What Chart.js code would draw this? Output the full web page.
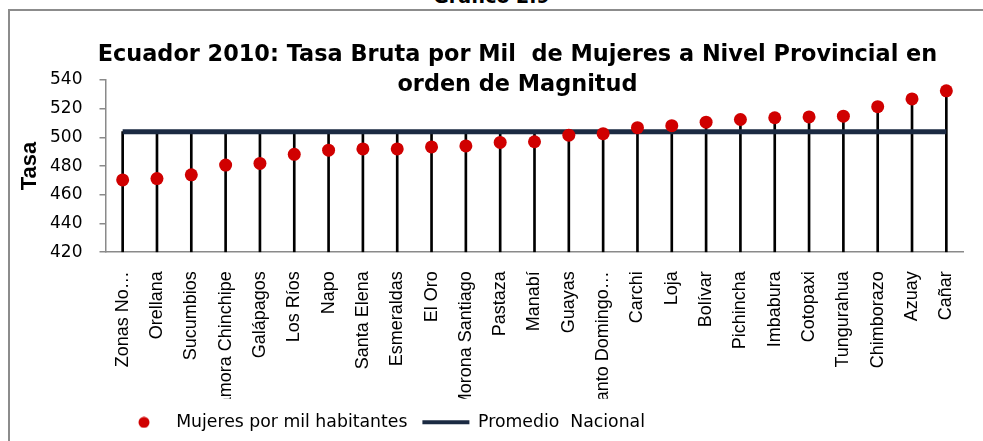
<!DOCTYPE html>
<html>
<head>
<meta charset="utf-8">
<script src="https://cdn.jsdelivr.net/npm/chart.js@4"></script>
<style>
    html, body { margin: 0; padding: 0; background: #fff; overflow: hidden; }
    body { width: 983px; height: 441px; position: relative; }
    #pageTitle {
        position: absolute; left: 0; top: -13px; width: 983px;
        text-align: center; font: bold 19px "DejaVu Sans", Arial, sans-serif;
        line-height: 18px; color: #000;
    }
    #frame {
        position: absolute; left: 8px; top: 9px; width: 973px; height: 430px;
        border-left: 2px solid #8c8c8c; border-top: 2px solid #8c8c8c;
        overflow: hidden;
    }
    #frame canvas { display: block; }
</style>
</head>
<body>
<div id="pageTitle">Gráfico 2.9</div>
<div id="frame"><canvas id="tasaChart" width="1015" height="430"></canvas></div>
<script>
const provincias = [
    'Zonas No…', 'Orellana', 'Sucumbios', 'Zamora Chinchipe', 'Galápagos',
    'Los Ríos', 'Napo', 'Santa Elena', 'Esmeraldas', 'El Oro',
    'Morona Santiago', 'Pastaza', 'Manabí', 'Guayas', 'Santo Domingo…',
    'Carchi', 'Loja', 'Bolívar', 'Pichincha', 'Imbabura',
    'Cotopaxi', 'Tungurahua', 'Chimborazo', 'Azuay', 'Cañar'
];
const mujeresPorMil = [
    470.4, 471.3, 473.9, 480.7, 481.9,
    488.2, 491.1, 492.0, 492.0, 493.4,
    494.1, 496.5, 497.0, 501.6, 502.6,
    506.8, 508.2, 510.6, 512.5, 513.7,
    514.3, 514.8, 521.4, 526.8, 532.5
];
const promedioNacional = 504.0;
const yMin = 420;
const yMax = 540;
const yStep = 20;

const promedio = provincias.map(() => promedioNacional);
// drop lines go from the axis up to whichever is higher: the point or the average line
const lineasCaida = mujeresPorMil.map(v => [yMin, Math.max(v, promedioNacional)]);

const red = '#d00000';
const navy = '#1b2a42';
const axisGray = '#8a8a8a';
const font = '"Liberation Sans", Arial, sans-serif';
const wideFont = '"DejaVu Sans", sans-serif';

// small red dot for the legend
const legendDot = document.createElement('canvas');
legendDot.width = 12;
legendDot.height = 12;
const dctx = legendDot.getContext('2d');
dctx.fillStyle = red;
dctx.beginPath();
dctx.arc(6, 6, 5.5, 0, Math.PI * 2);
dctx.fill();

const ctx = document.getElementById('tasaChart').getContext('2d');
new Chart(ctx, {
    data: {
        labels: provincias,
        datasets: [
            {
                type: 'line',
                label: 'Mujeres por mil habitantes',
                data: mujeresPorMil,
                showLine: false,
                pointRadius: 6.5,
                pointBorderWidth: 0,
                pointBackgroundColor: red,
                backgroundColor: red,
                borderColor: red,
                order: 0
            },
            {
                type: 'line',
                label: 'Promedio  Nacional',
                data: promedio,
                borderColor: navy,
                backgroundColor: navy,
                borderWidth: 5,
                pointRadius: 0,
                pointStyle: 'line',
                order: 1
            },
            {
                type: 'bar',
                label: 'caida',
                data: lineasCaida,
                backgroundColor: '#000',
                barThickness: 2,
                order: 2
            }
        ]
    },
    options: {
        responsive: false,
        animation: false,
        layout: {
            padding: 0
        },
        plugins: {
            tooltip: { enabled: false },
            title: {
                display: true,
                text: ['Ecuador 2010: Tasa Bruta por Mil  de Mujeres a Nivel Provincial en', 'orden de Magnitud'],
                color: '#000',
                font: { family: wideFont, size: 22.4, weight: 'bold', lineHeight: 1.34 },
                padding: { top: 29, bottom: -20 }
            },
            legend: {
                position: 'bottom',
                align: 'start',
                fullSize: false,
                labels: {
                    color: '#000',
                    font: { family: wideFont, size: 17.3 },
                    usePointStyle: true,
                    pointStyleWidth: 47,
                    boxHeight: 18,
                    padding: 15,
                    filter: item => item.text !== 'caida',
                    generateLabels: chart => {
                        const items = Chart.defaults.plugins.legend.labels.generateLabels(chart);
                        items.forEach(item => {
                            if (item.text === 'Mujeres por mil habitantes') {
                                item.pointStyle = legendDot;
                            } else if (item.text === 'Promedio  Nacional') {
                                item.pointStyle = 'line';
                                item.lineWidth = 4;
                                item.strokeStyle = navy;
                            }
                        });
                        return items;
                    }
                }
            }
        },
        scales: {
            x: {
                offset: true,
                grid: { display: false },
                border: { display: true, color: axisGray, width: 1.5 },
                ticks: {
                    color: '#000',
                    font: { family: font, size: 18 },
                    autoSkip: false,
                    minRotation: 90,
                    maxRotation: 90,
                    padding: 11
                },
                afterFit: scale => { scale.height = 146.5; }
            },
            y: {
                min: yMin,
                max: yMax,
                grid: {
                    drawOnChartArea: false,
                    color: axisGray,
                    tickLength: 6,
                    lineWidth: 1.5
                },
                border: { display: true, color: axisGray, width: 1.5 },
                ticks: {
                    stepSize: yStep,
                    color: '#000',
                    font: { family: wideFont, size: 17 },
                    padding: 17
                },
                title: {
                    display: true,
                    text: 'Tasa',
                    color: '#000',
                    font: { family: font, size: 22, weight: 'bold' },
                    padding: { top: 7, bottom: 0 }
                },
                afterFit: scale => { scale.width = 95.5; }
            },
            // empty right-hand margin so the title stays centred on the whole frame
            margenDerecho: {
                type: 'linear',
                position: 'right',
                display: true,
                grid: { display: false },
                border: { display: false },
                ticks: { display: false },
                afterFit: scale => { scale.width = 61.5; }
            }
        }
    }
});
</script>
</body>
</html>
